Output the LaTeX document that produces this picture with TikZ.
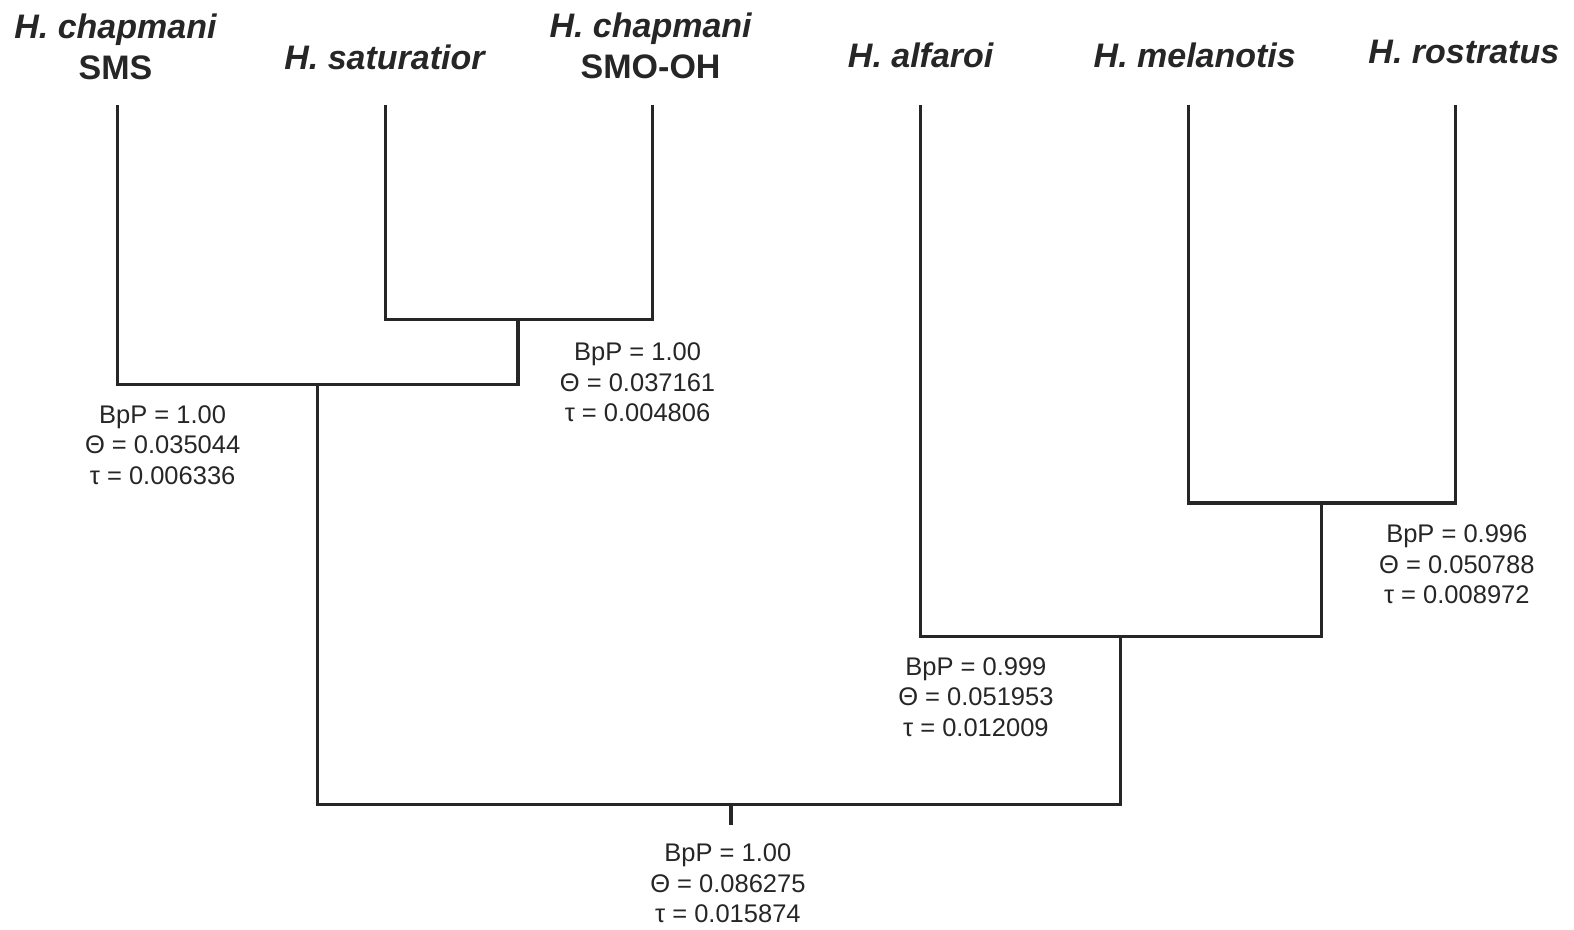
\documentclass[tikz,border=0pt]{standalone}
\usepackage{fontspec}
\setmainfont{Liberation Sans}
\usetikzlibrary{positioning}

\begin{document}
\begin{tikzpicture}[
    x=1.004pt, y=-1.004pt,
    branch/.style={line width=3.2pt, line join=miter, black!85},
    taxon/.style={font=\fontsize{34}{41}\selectfont\bfseries\itshape, align=center, text=black!85, inner sep=0pt},
    support/.style={font=\fontsize{25.5}{30.5}\selectfont, align=center, text=black!85, inner sep=0pt}
]
    \useasboundingbox (0,0) rectangle (1567.7,925.3);

    % Taxa at the tips:
    \node[taxon] (sms) at (115,47) {H. chapmani\\\upshape SMS};
    \node[taxon] (sat) at (383,57) {H. saturatior};
    \node[taxon] (smo) at (648,46) {H. chapmani\\\upshape SMO-OH};
    \node[taxon] (alf) at (917,55) {H. alfaroi};
    \node[taxon] (mel) at (1190,55) {H. melanotis};
    \node[taxon] (ros) at (1458,52) {H. rostratus};

    % Tops of the tip branches:
    \coordinate (t1) at (117,105);
    \coordinate (t2) at (384,105);
    \coordinate (t3) at (650,105);
    \coordinate (t4) at (917,105);
    \coordinate (t5) at (1184,105);
    \coordinate (t6) at (1450,105);

    % Internal nodes:
    \coordinate (c23) at (516,318);
    \coordinate (c123) at (316,383);
    \coordinate (c56) at (1316,501);
    \coordinate (c456) at (1116,634);
    \coordinate (root) at (728,801);
    \coordinate (rootend) at (728,822);

    \draw[branch] (t2) |- (c23) -| (t3);
    \draw[branch] (t1) |- (c123) -| (c23);
    \draw[branch] (t5) |- (c56) -| (t6);
    \draw[branch] (t4) |- (c456) -| (c56);
    \draw[branch] (c123) |- (root) -| (c456);
    \draw[branch] (root) -- (rootend);

    % Support values:
    \node[support] (s123) at (162,443) {BpP = 1.00\\Θ = 0.035044\\τ = 0.006336};
    \node[support] (s23) at (635,381) {BpP = 1.00\\Θ = 0.037161\\τ = 0.004806};
    \node[support] (s56) at (1451,562) {BpP = 0.996\\Θ = 0.050788\\τ = 0.008972};
    \node[support] (s456) at (972,694) {BpP = 0.999\\Θ = 0.051953\\τ = 0.012009};
    \node[support] (sroot) at (725,880) {BpP = 1.00\\Θ = 0.086275\\τ = 0.015874};
\end{tikzpicture}
\end{document}
